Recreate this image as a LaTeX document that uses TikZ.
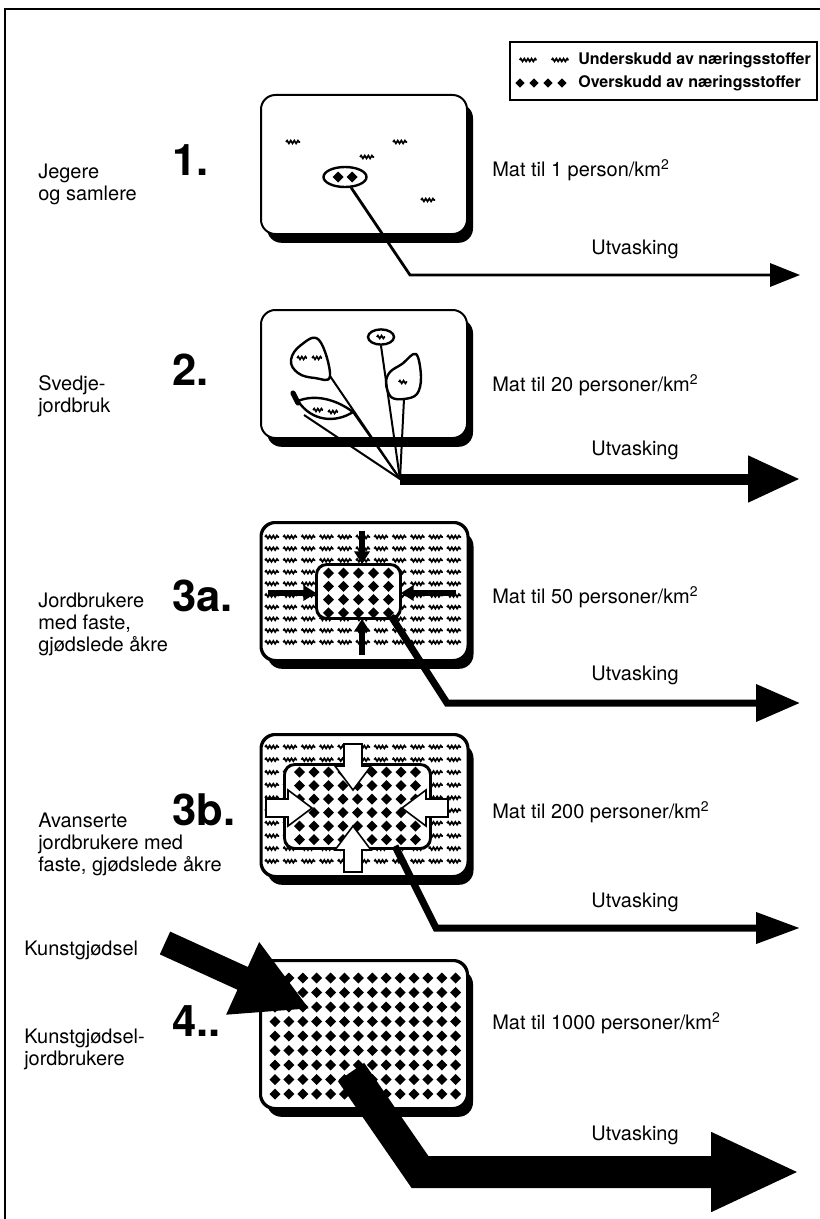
\documentclass[tikz,border=0pt]{standalone}
\usepackage{fontspec}
\setmainfont{TeX Gyre Heros}
\usetikzlibrary{arrows.meta,shapes.geometric,shadows,decorations.pathmorphing}
\newcommand{\stagefont}{\fontsize{14.2}{15.6}\selectfont}
\newcommand{\keyfont}{\fontsize{11.4}{13}\selectfont\bfseries}
\newcommand{\numfont}{\fontsize{31}{33}\selectfont\bfseries}
\tikzset{
  base/.style={font=\stagefont, inner sep=0pt, align=left, anchor=west},
  num/.style={font=\numfont, inner sep=0pt, anchor=west},
  keytext/.style={font=\keyfont, inner sep=0pt, anchor=west},
  field/.style={draw=black, line width=0.5mm, rounded corners=3.6mm, fill=white, minimum width=51.5mm,
    drop shadow={shadow xshift=1.5mm, shadow yshift=-2.2mm, fill=black, opacity=1}},
  core/.style={draw=black, line width=0.45mm, rounded corners=2.5mm, fill=white, inner sep=0pt},
  lack/.style={decorate, decoration={snake, amplitude=0.35mm, segment length=0.9mm}, line width=0.42mm},
  plant/.style={draw=black, line width=0.6mm, fill=white},
  stem/.style={line width=0.5mm},
  leach/.style={draw=black, line join=miter},
  push/.style={line width=1.3mm, -{Triangle[length=3.2mm,width=3.8mm]}},
  blockarr/.style={draw=black, fill=white, line width=0.4mm, line join=miter},
  gem/.pic={\fill (0,-5.5) -- (5.5,0) -- (0,5.5) -- (-5.5,0) -- cycle;},
  wave/.pic={\draw[lack] (-7,0) -- (7,0);},
}
\begin{document}
\begin{tikzpicture}[x=0.25mm,y=-0.25mm]
  \useasboundingbox (0,0) rectangle (820,1219);
  % frame
  \draw[line width=0.5mm] (5,1219) -- (5,9) -- (820,9);
  % legend
  \node[draw, line width=0.4mm, minimum width=76.75mm, minimum height=14.5mm, inner sep=0pt] (legend) at (663.5,71) {};
  \pic[xscale=1.2] at (528,60) {wave}; \pic[xscale=1.2] at (560,60) {wave};
  \foreach \gx in {520,534,548,562} \pic[scale=0.85] at (\gx,83) {gem};
  \node[keytext] (under) at (578,60) {Underskudd av næringsstoffer};
  \node[keytext] (over) at (578,83) {Overskudd av næringsstoffer};

  % 1. hunters and gatherers
  \node[base] (lab1) at (38,184) {Jegere\\og samlere};
  \node[num] (nr1) at (172,160) {1.};
  \node[field, minimum height=34.75mm] (f1) at (364,164.5) {};
  \foreach \wx/\wy in {293/142,400/142,367/157,428/200} \pic at (\wx,\wy) {wave};
  \node[ellipse, draw, line width=0.6mm, minimum width=10.75mm, minimum height=5mm, inner sep=0pt] (pod) at (345,177) {};
  \pic at (338,177) {gem}; \pic at (352,177) {gem};
  \node[base] (mat1) at (492,170) {Mat til 1 person/km\textsuperscript{2}};
  \coordinate (k1) at (410,275); \coordinate (t1) at (800,275);
  \draw[leach, line width=0.7mm, -{Triangle[length=7.5mm,width=5.8mm]}] (pod.-60) -- (k1) -- (t1);
  \node[font=\stagefont, inner sep=0pt] (ut1) at (635,249) {Utvasking};

  % 2. slash and burn
  \node[base] (lab2) at (38,396) {Svedje-\\jordbruk};
  \node[num] (nr2) at (172,370) {2.};
  \node[field, minimum height=32mm] (f2) at (364,374) {};
  \coordinate (root2) at (400,479);
  \draw[plant] plot[smooth cycle, tension=0.7] coordinates {(330,376) (319,340) (301,345) (291,360) (298,373) (315,378)};
  \pic[scale=0.7] at (302,358) {wave}; \pic[scale=0.7] at (317,358) {wave};
  \node[ellipse, draw, line width=0.6mm, minimum width=6.5mm, minimum height=3.8mm, inner sep=0pt] (bud) at (381,337) {};
  \pic[scale=0.6] at (381,337) {wave};
  \draw[plant] plot[smooth cycle, tension=0.6] coordinates {(416,354) (421,377) (417,394) (404,399) (391,397) (386,383) (390,372) (402,364)};
  \pic[scale=0.6] at (403,382) {wave};
  \draw[plant] (298,401) .. controls (312,395) and (333,397) .. (353,412) .. controls (336,423) and (312,422) .. (298,401) -- cycle;
  \draw[line width=1.3mm, line cap=round] (298,403) -- (293,393);
  \pic[scale=0.7] at (318,410) {wave}; \pic[scale=0.7] at (333,412) {wave};
  \draw[stem] (330,376) -- (root2);
  \draw[stem] (bud.south) -- (root2);
  \draw[stem] (404,399) -- (root2);
  \draw[stem] (353,412) -- (root2);
  \draw[stem] (304,415) -- (root2);
  \node[base] (mat2) at (492,385) {Mat til 20 personer/km\textsuperscript{2}};
  \coordinate (t2) at (800,479);
  \draw[leach, line width=2.75mm, -{Triangle[length=13mm,width=11mm]}] (root2) -- (t2);
  \node[font=\stagefont, inner sep=0pt] (ut2) at (635,450) {Utvasking};

  % 3a. fixed fertilised fields
  \node[base] (lab3a) at (38,624) {Jordbrukere\\med faste,\\gjødslede åkre};
  \node[num] (nr3a) at (172,596) {3a.};
  \node[field, minimum height=34.25mm] (f3a) at (364.5,591.5) {};
  \begin{scope}
    \clip[rounded corners=3.6mm] (f3a.south west) rectangle (f3a.north east);
    \foreach \i in {0,...,10} \foreach \j in {0,...,9} \pic at (272+18.2*\i,537+11.7*\j) {wave};
  \end{scope}
  \node[core, minimum width=20.75mm, minimum height=13.25mm] (core3a) at (358.5,591.5) {};
  \begin{scope}
    \clip[rounded corners=2.5mm] (core3a.south west) rectangle (core3a.north east);
    \foreach \i in {0,...,4} \foreach \j in {0,...,3} \pic at (328.5+15*\i,573+13.3*\j) {gem};
  \end{scope}
  \draw[line width=0.45mm, rounded corners=2.5mm] (core3a.south west) rectangle (core3a.north east);
  \coordinate (n3a) at (362,531); \coordinate (s3a) at (362,655);
  \coordinate (w3a) at (268,593); \coordinate (e3a) at (456,593);
  \draw[push] (n3a) -- (core3a.north -| n3a);
  \draw[push] (s3a) -- (core3a.south -| s3a);
  \draw[push] (w3a) -- (core3a.west |- w3a);
  \draw[push] (e3a) -- (core3a.east |- e3a);
  \draw[line width=0.5mm, rounded corners=3.6mm] (f3a.south west) rectangle (f3a.north east);
  \node[base] (mat3a) at (492,597) {Mat til 50 personer/km\textsuperscript{2}};
  \coordinate (o3a) at (391,616); \coordinate (k3a) at (447,703); \coordinate (t3a) at (800,703);
  \draw[leach, line width=1.75mm, -{Triangle[length=11mm,width=9mm]}] (o3a) -- (k3a) -- (t3a);
  \node[font=\stagefont, inner sep=0pt] (ut3a) at (635,675) {Utvasking};

  % 3b. advanced farmers
  \node[base] (lab3b) at (38,844) {Avanserte\\jordbrukere med\\faste, gjødslede åkre};
  \node[num] (nr3b) at (172,810) {3b.};
  \node[field, minimum height=35.25mm] (f3b) at (364.5,805.5) {};
  \begin{scope}
    \clip[rounded corners=3.6mm] (f3b.south west) rectangle (f3b.north east);
    \foreach \i in {0,...,10} \foreach \j in {0,...,9} \pic at (272+18.2*\i,747+12.7*\j) {wave};
  \end{scope}
  \node[core, minimum width=36.25mm, minimum height=20.75mm] (core3b) at (357.5,806.5) {};
  \begin{scope}
    \clip[rounded corners=2.5mm] (core3b.south west) rectangle (core3b.north east);
    \foreach \i in {0,...,8} \foreach \j in {0,...,5} \pic at (299.5+14.5*\i,772+13.5*\j) {gem};
  \end{scope}
  \draw[line width=0.45mm, rounded corners=2.5mm] (core3b.south west) rectangle (core3b.north east);
  \foreach \bx/\by/\rot in {353/744/-90, 353/872/90, 266/808/0, 448/808/180}
    \draw[blockarr, shift={(\bx,\by)}, rotate=\rot] (0,-9) -- (22,-9) -- (22,-18) -- (46,0) -- (22,18) -- (22,9) -- (0,9) -- cycle;
  \draw[line width=0.5mm, rounded corners=3.6mm] (f3b.south west) rectangle (f3b.north east);
  \node[base] (mat3b) at (492,812) {Mat til 200 personer/km\textsuperscript{2}};
  \coordinate (o3b) at (395,846); \coordinate (k3b) at (436,928); \coordinate (t3b) at (800,928);
  \draw[leach, line width=1.75mm, -{Triangle[length=11mm,width=7.5mm]}] (o3b) -- (k3b) -- (t3b);
  \node[font=\stagefont, inner sep=0pt] (ut3b) at (635,902) {Utvasking};

  % 4. fertiliser farmers
  \node[base] (kunst) at (24,950) {Kunstgjødsel};
  \node[base] (lab4) at (24,1049) {Kunstgjødsel-\\jordbrukere};
  \node[num] (nr4) at (172,1021) {4..};
  \node[field, minimum height=36.75mm] (f4) at (364,1034.5) {};
  \begin{scope}
    \clip[rounded corners=3.6mm] (f4.south west) rectangle (f4.north east);
    \foreach \i in {0,...,13} \foreach \j in {0,...,8} \pic at (275+13.9*\i,978+14.5*\j) {gem};
  \end{scope}
  \draw[line width=0.5mm, rounded corners=3.6mm] (f4.south west) rectangle (f4.north east);
  \node[base] (mat4) at (492,1023) {Mat til 1000 personer/km\textsuperscript{2}};
  \coordinate (src) at (165,943); \coordinate (hit) at (310,1009);
  \draw[leach, line width=6.25mm, -{Triangle[length=18.5mm,width=18.5mm]}] (src) -- (hit);
  \coordinate (o4) at (351,1072); \coordinate (k4) at (420,1172); \coordinate (t4) at (800,1172);
  \draw[leach, line width=8mm, -{Triangle[length=22.25mm,width=18.25mm]}] (o4) -- (k4) -- (t4);
  \node[font=\stagefont, inner sep=0pt] (ut4) at (635,1135) {Utvasking};
\end{tikzpicture}
\end{document}
